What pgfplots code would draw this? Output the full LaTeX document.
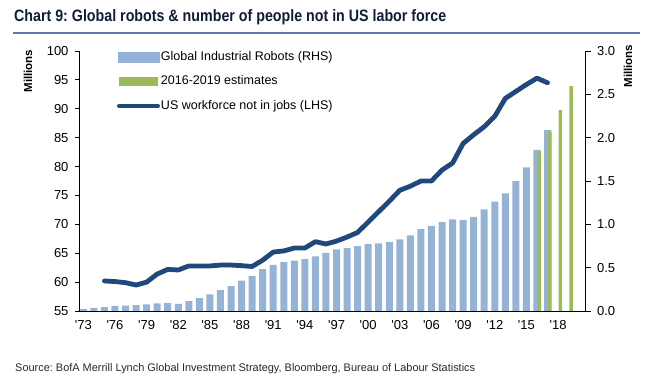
\documentclass[border=0pt]{standalone}
\usepackage{fontspec}
\setmainfont{Liberation Sans}[Ligatures=TeXOff]
\usepackage{graphicx}
\usepackage{pgfplots}
\pgfplotsset{compat=1.18}
\definecolor{robotblue}{RGB}{149,179,215}
\definecolor{estgreen}{RGB}{155,187,89}
\definecolor{linenavy}{RGB}{31,73,125}
\definecolor{titlenavy}{RGB}{16,28,56}
\definecolor{rulesteel}{RGB}{90,123,170}
\definecolor{srcgray}{RGB}{40,40,40}
\newcommand{\tickfont}{\fontsize{13bp}{15bp}\selectfont}
\frenchspacing
\begin{document}
\begin{tikzpicture}[x=1bp,y=1bp]
\useasboundingbox (0,0) rectangle (652,390);
\node[anchor=west, inner sep=0pt, text=titlenavy] at (14,373) {\resizebox{432bp}{\height}{\fontsize{16.5bp}{18bp}\selectfont\bfseries Chart 9: Global robots \& number of people not in US labor force}};
\draw[rulesteel, line width=2bp] (13,357) -- (640,357);
\node[anchor=west, inner sep=0pt, text=srcgray] at (15,21) {\resizebox{460bp}{\height}{\fontsize{11bp}{13bp}\selectfont Source: BofA Merrill Lynch Global Investment Strategy, Bloomberg, Bureau of Labour Statistics}};

% Right axis: robots (millions)
\begin{axis}[
  at={(79bp,79bp)}, anchor=south west, scale only axis,
  width=506.5bp, height=260bp,
  xmin=1972.59, xmax=2020.6, ymin=0, ymax=3,
  axis x line=none, axis y line*=right,
  axis line style={black, line width=1bp},
  tick align=outside, major tick length=5bp,
  tick style={black, line width=0.9bp},
  ytick={0,0.5,1,1.5,2,2.5,3},
  yticklabel style={font=\tickfont, xshift=3bp,
    /pgf/number format/fixed, /pgf/number format/fixed zerofill,
    /pgf/number format/precision=1, /pgf/number format/assume math mode=true},
  ylabel={Millions},
  every axis y label/.style={at={(rel axis cs:1.0839,0.942)}, rotate=90, anchor=center,
    font=\fontsize{11.5bp}{13bp}\selectfont\bfseries},
]
\addplot[ybar, bar width=7bp, bar shift=0pt, fill=robotblue, draw=none] coordinates {
(1973,0.023) (1974,0.035) (1975,0.046) (1976,0.058) (1977,0.062) (1978,0.069)
(1979,0.077) (1980,0.088) (1981,0.092) (1982,0.081) (1983,0.115) (1984,0.150)
(1985,0.192) (1986,0.242) (1987,0.288) (1988,0.350) (1989,0.404) (1990,0.483)
(1991,0.531) (1992,0.563) (1993,0.582) (1994,0.600) (1995,0.631) (1996,0.670)
(1997,0.712) (1998,0.725) (1999,0.750) (2000,0.773) (2001,0.781) (2002,0.796)
(2003,0.827) (2004,0.873) (2005,0.946) (2006,0.981) (2007,1.025) (2008,1.058)
(2009,1.050) (2010,1.085) (2011,1.173) (2012,1.261) (2013,1.358) (2014,1.500)
(2015,1.658) (2016,1.858) (2017,2.087)
};
\addplot[ybar, bar width=3.5bp, bar shift=2.4bp, fill=estgreen, draw=none] coordinates {
(2016,1.846) (2017,2.069) (2018,2.319) (2019,2.596)
};
\end{axis}

% Left axis: US workforce not in jobs (millions)
\begin{axis}[
  at={(79bp,79bp)}, anchor=south west, scale only axis,
  width=506.5bp, height=260bp,
  xmin=1972.59, xmax=2020.6, ymin=55, ymax=100,
  axis x line*=bottom, axis y line*=left,
  axis line style={black, line width=1bp},
  tick align=outside, major tick length=4bp,
  tick style={black, line width=0.9bp},
  xtick={1973,1976,1979,1982,1985,1988,1991,1994,1997,2000,2003,2006,2009,2012,2015,2018},
  xticklabels={'73,'76,'79,'82,'85,'88,'91,'94,'97,'00,'03,'06,'09,'12,'15,'18},
  x tick style={draw=none},
  xticklabel style={font=\tickfont, yshift=-2bp},
  ytick={55,60,65,70,75,80,85,90,95,100},
  yticklabel style={font=\tickfont, xshift=-3bp, /pgf/number format/assume math mode=true},
  ylabel={Millions},
  every axis y label/.style={at={(rel axis cs:-0.1007,0.923)}, rotate=90, anchor=center,
    font=\fontsize{11.5bp}{13bp}\selectfont\bfseries},
  legend cell align=left,
  legend style={at={(rel axis cs:0.075,1.005)}, anchor=north west, draw=none, fill=none,
    inner sep=0pt, outer sep=0pt, row sep=10bp, column sep=0bp,
    font=\fontsize{12.5bp}{14bp}\selectfont,
    nodes={inner sep=1bp, text height=9.5bp, text depth=3bp}},
]
\addlegendimage{legend image code/.code={\fill[robotblue] (0bp,-5bp) rectangle (41bp,5bp);}}
\addlegendentry{Global Industrial Robots (RHS)}
\addlegendimage{legend image code/.code={\fill[estgreen] (1bp,-4bp) rectangle (39bp,4bp);}}
\addlegendentry{2016-2019 estimates}
\addplot[linenavy, line width=4.8bp, line join=round, line cap=round,
  legend image code/.code={\draw[linenavy, line width=4bp, line cap=round] (1bp,0bp) -- (40bp,0bp);}] coordinates {
(1975,60.2) (1976,60.1) (1977,59.9) (1978,59.5) (1979,60.0) (1980,61.4)
(1981,62.2) (1982,62.1) (1983,62.8) (1984,62.8) (1985,62.8) (1986,62.95)
(1987,62.95) (1988,62.85) (1989,62.7) (1990,63.8) (1991,65.2) (1992,65.4)
(1993,65.9) (1994,65.9) (1995,67.0) (1996,66.6) (1997,67.1) (1998,67.8)
(1999,68.6) (2000,70.4) (2001,72.2) (2002,74.0) (2003,75.9) (2004,76.6)
(2005,77.5) (2006,77.5) (2007,79.4) (2008,80.6) (2009,84.0) (2010,85.5)
(2011,86.9) (2012,88.7) (2013,91.8) (2014,93.0) (2015,94.2) (2016,95.3)
(2017,94.5)
};
\addlegendentry{US workforce not in jobs (LHS)}
\end{axis}
\end{tikzpicture}
\end{document}
